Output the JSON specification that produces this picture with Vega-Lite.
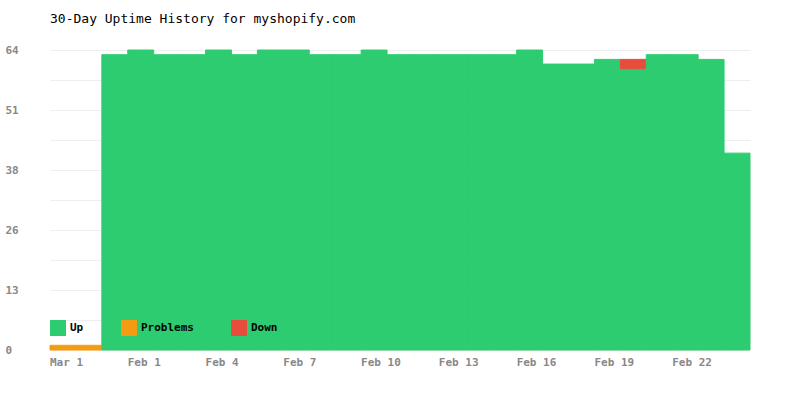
{
  "$schema": "https://vega.github.io/schema/vega-lite/v6.json",
  "width": 700,
  "height": 300,
  "autosize": {"type": "none"},
  "padding": {"left": 50, "top": 50, "right": 50, "bottom": 50},
  "background": "white",
  "title": {
    "text": "30-Day Uptime History for myshopify.com",
    "anchor": "start",
    "frame": "group",
    "font": "DejaVu Sans Mono",
    "fontSize": 13,
    "fontWeight": "normal",
    "color": "#000000",
    "baseline": "alphabetic",
    "offset": 8
  },
  "config": {
    "view": {"stroke": null},
    "axis": {
      "labelFont": "DejaVu Sans Mono",
      "labelFontWeight": "bold",
      "labelFontSize": 11,
      "labelColor": "#888888",
      "domain": false,
      "ticks": false,
      "title": null
    },
    "legend": {
      "labelFont": "DejaVu Sans Mono",
      "labelFontWeight": "bold",
      "labelFontSize": 11,
      "labelColor": "#000000"
    }
  },
  "data": {
    "values": [
      {"day": "Mar 1", "status": "Problems", "value": 1},
      {"day": "Jan 30", "status": "Problems", "value": 1},
      {"day": "Jan 31", "status": "Up", "value": 63},
      {"day": "Feb 1", "status": "Up", "value": 64},
      {"day": "Feb 2", "status": "Up", "value": 63},
      {"day": "Feb 3", "status": "Up", "value": 63},
      {"day": "Feb 4", "status": "Up", "value": 64},
      {"day": "Feb 5", "status": "Up", "value": 63},
      {"day": "Feb 6", "status": "Up", "value": 64},
      {"day": "Feb 7", "status": "Up", "value": 64},
      {"day": "Feb 8", "status": "Up", "value": 63},
      {"day": "Feb 9", "status": "Up", "value": 63},
      {"day": "Feb 10", "status": "Up", "value": 64},
      {"day": "Feb 11", "status": "Up", "value": 63},
      {"day": "Feb 12", "status": "Up", "value": 63},
      {"day": "Feb 13", "status": "Up", "value": 63},
      {"day": "Feb 14", "status": "Up", "value": 63},
      {"day": "Feb 15", "status": "Up", "value": 63},
      {"day": "Feb 16", "status": "Up", "value": 64},
      {"day": "Feb 17", "status": "Up", "value": 61},
      {"day": "Feb 18", "status": "Up", "value": 61},
      {"day": "Feb 19", "status": "Up", "value": 62},
      {"day": "Feb 20", "status": "Up", "value": 60},
      {"day": "Feb 20", "status": "Down", "value": 2},
      {"day": "Feb 21", "status": "Up", "value": 63},
      {"day": "Feb 22", "status": "Up", "value": 63},
      {"day": "Feb 23", "status": "Up", "value": 62},
      {"day": "Feb 24", "status": "Up", "value": 42}
    ]
  },
  "mark": {"type": "bar", "strokeWidth": 1},
  "encoding": {
    "x": {
      "field": "day",
      "type": "nominal",
      "sort": null,
      "scale": {"paddingInner": 0, "paddingOuter": 0},
      "axis": {
        "values": ["Mar 1", "Feb 1", "Feb 4", "Feb 7", "Feb 10", "Feb 13", "Feb 16", "Feb 19", "Feb 22"],
        "labelAlign": "left",
        "labelAngle": 0,
        "labelOffset": -13,
        "labelPadding": 6,
        "grid": false
      }
    },
    "y": {
      "field": "value",
      "type": "quantitative",
      "stack": "zero",
      "scale": {"domain": [0, 64], "nice": false},
      "axis": {
        "values": [0, 6.4, 12.8, 19.2, 25.6, 32, 38.4, 44.8, 51.2, 57.6, 64],
        "labelExpr": "round(datum.value / 6.4) % 2 == 0 ? format(datum.value, '.0f') : ''",
        "labelAlign": "left",
        "labelPadding": 45,
        "grid": true,
        "gridColor": "#eeeeee",
        "gridWidth": 1
      }
    },
    "color": {
      "field": "status",
      "type": "nominal",
      "scale": {
        "domain": ["Up", "Problems", "Down"],
        "range": ["#2ecc71", "#f39c12", "#e74c3c"]
      },
      "legend": {
        "title": null,
        "orient": "none",
        "direction": "horizontal",
        "legendX": 0,
        "legendY": 270,
        "symbolType": "square",
        "symbolSize": 256,
        "symbolStrokeWidth": 0,
        "symbolOpacity": 1,
        "labelOffset": 4,
        "columnPadding": 37
      }
    },
    "stroke": {
      "field": "status",
      "type": "nominal",
      "scale": {
        "domain": ["Up", "Problems", "Down"],
        "range": ["#2ecc71", "#f39c12", "#e74c3c"]
      },
      "legend": null
    },
    "order": {"field": "status", "sort": "descending"}
  }
}
